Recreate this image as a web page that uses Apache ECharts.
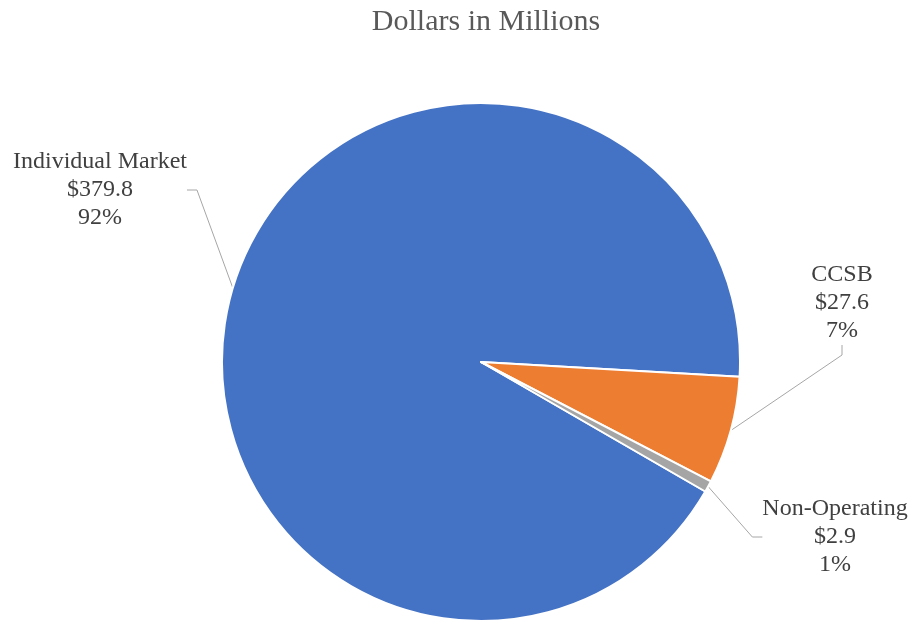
<!DOCTYPE html>
<html>
<head>
<meta charset="utf-8">
<script src="https://cdn.jsdelivr.net/npm/echarts@6/dist/echarts.min.js"></script>
<style>html,body{margin:0;padding:0;background:#fff}#c{width:915px;height:621px}</style>
</head>
<body>
<div id="c"></div>
<script>
var titleText = 'Dollars in Millions';
var categories = ['Individual Market', 'CCSB', 'Non-Operating'];
var values = [379.8, 27.6, 2.9];
var percentLabels = ['92%', '7%', '1%'];
var colors = ['#4472C4', '#ED7D31', '#A5A5A5'];

var chart = echarts.init(document.getElementById('c'));
var labelPos = [[100, 190], [842, 303], [835, 537]];
chart.setOption({
  animation: false,
  title: {
    text: titleText, left: 481, textAlign: 'center', top: 2,
    textStyle: { fontFamily: 'Liberation Serif', fontSize: 30, fontWeight: 'normal', color: '#595959' }
  },
  series: [{
    type: 'pie',
    center: [481, 362],
    radius: 259,
    startAngle: -30,
    clockwise: true,
    data: categories.map(function (c, i) {
      return { name: c, value: values[i], itemStyle: { color: colors[i] } };
    }),
    itemStyle: { borderColor: '#fff', borderWidth: 2 },
    label: {
      show: true,
      position: 'outside',
      fontFamily: 'Liberation Serif',
      fontSize: 24,
      lineHeight: 28,
      color: '#404040',
      align: 'center',
      formatter: function (p) {
        return p.name + '\n$' + p.value.toFixed(1) + '\n' + percentLabels[p.dataIndex];
      }
    },
    labelLine: { show: true, length: 20, length2: 10, lineStyle: { color: '#A6A6A6', width: 1 } },
    labelLayout: function (p) {
      var pos = labelPos[p.dataIndex];
      return { x: pos[0], y: pos[1], align: 'center', verticalAlign: 'middle' };
    }
  }]
});
</script>
</body>
</html>
